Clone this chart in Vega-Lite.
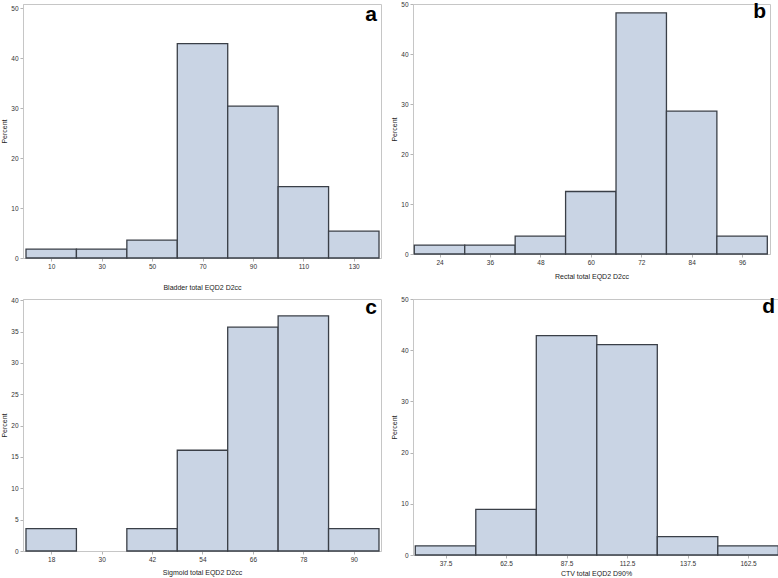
{
  "$schema": "https://vega.github.io/schema/vega-lite/v6.json",
  "background": "white",
  "padding": {"left": 0, "top": 0, "right": 0, "bottom": 0},
  "datasets": {
    "a": [
      {"lo": 0, "hi": 20, "pct": 1.79},
      {"lo": 20, "hi": 40, "pct": 1.79},
      {"lo": 40, "hi": 60, "pct": 3.57},
      {"lo": 60, "hi": 80, "pct": 42.86},
      {"lo": 80, "hi": 100, "pct": 30.36},
      {"lo": 100, "hi": 120, "pct": 14.29},
      {"lo": 120, "hi": 140, "pct": 5.36}
    ],
    "b": [
      {"lo": 18, "hi": 30, "pct": 1.79},
      {"lo": 30, "hi": 42, "pct": 1.79},
      {"lo": 42, "hi": 54, "pct": 3.57},
      {"lo": 54, "hi": 66, "pct": 12.5},
      {"lo": 66, "hi": 78, "pct": 48.21},
      {"lo": 78, "hi": 90, "pct": 28.57},
      {"lo": 90, "hi": 102, "pct": 3.57}
    ],
    "c": [
      {"lo": 12, "hi": 24, "pct": 3.57},
      {"lo": 36, "hi": 48, "pct": 3.57},
      {"lo": 48, "hi": 60, "pct": 16.07},
      {"lo": 60, "hi": 72, "pct": 35.71},
      {"lo": 72, "hi": 84, "pct": 37.5},
      {"lo": 84, "hi": 96, "pct": 3.57}
    ],
    "d": [
      {"lo": 25, "hi": 50, "pct": 1.79},
      {"lo": 50, "hi": 75, "pct": 8.93},
      {"lo": 75, "hi": 100, "pct": 42.86},
      {"lo": 100, "hi": 125, "pct": 41.07},
      {"lo": 125, "hi": 150, "pct": 3.57},
      {"lo": 150, "hi": 175, "pct": 1.79}
    ]
  },
  "columns": 2,
  "bounds": "flush",
  "align": "each",
  "spacing": {"row": 41, "column": 32},
  "concat": [
    {
      "width": 358,
      "height": 254,
      "data": {"name": "a"},
      "title": {"text": "a"},
      "mark": {"type": "bar"},
      "encoding": {
        "x": {"field": "lo", "type": "quantitative", "scale": {"domain": [-1.19, 140.79], "nice": false, "zero": false},
              "axis": {"values": [10, 30, 50, 70, 90, 110, 130], "title": "Bladder total EQD2  D2cc", "titlePadding": 14}},
        "x2": {"field": "hi"},
        "y": {"field": "pct", "type": "quantitative", "scale": {"domain": [0, 50.8], "nice": false},
              "axis": {"values": [0, 10, 20, 30, 40, 50], "title": "Percent"}},
        "y2": {"datum": 0}
      }
    },
    {
      "width": 357,
      "height": 250,
      "data": {"name": "b"},
      "title": {"text": "b"},
      "mark": {"type": "bar"},
      "encoding": {
        "x": {"field": "lo", "type": "quantitative", "scale": {"domain": [17.69, 102.64], "nice": false, "zero": false},
              "axis": {"values": [24, 36, 48, 60, 72, 84, 96], "title": "Rectal total EQD2  D2cc", "titlePadding": 7}},
        "x2": {"field": "hi"},
        "y": {"field": "pct", "type": "quantitative", "scale": {"domain": [0, 50], "nice": false},
              "axis": {"values": [0, 10, 20, 30, 40, 50], "title": "Percent"}},
        "y2": {"datum": 0}
      }
    },
    {
      "width": 358,
      "height": 252,
      "data": {"name": "c"},
      "title": {"text": "c"},
      "mark": {"type": "bar"},
      "encoding": {
        "x": {"field": "lo", "type": "quantitative", "scale": {"domain": [11.29, 96.48], "nice": false, "zero": false},
              "axis": {"values": [18, 30, 42, 54, 66, 78, 90], "title": "Sigmoid total EQD2  D2cc", "titlePadding": 6}},
        "x2": {"field": "hi"},
        "y": {"field": "pct", "type": "quantitative", "scale": {"domain": [0, 40.2], "nice": false},
              "axis": {"values": [0, 5, 10, 15, 20, 25, 30, 35, 40], "title": "Percent"}},
        "y2": {"datum": 0}
      }
    },
    {
      "width": 366,
      "height": 256,
      "data": {"name": "d"},
      "title": {"text": "d"},
      "mark": {"type": "bar"},
      "encoding": {
        "x": {"field": "lo", "type": "quantitative", "scale": {"domain": [24.05, 175.29], "nice": false, "zero": false},
              "axis": {"values": [37.5, 62.5, 87.5, 112.5, 137.5, 162.5], "format": ".1f", "title": "CTV total EQD2 D90%", "titlePadding": 3}},
        "x2": {"field": "hi"},
        "y": {"field": "pct", "type": "quantitative", "scale": {"domain": [0, 50], "nice": false},
              "axis": {"values": [0, 10, 20, 30, 40, 50], "title": "Percent"}},
        "y2": {"datum": 0}
      }
    }
  ],
  "config": {
    "view": {"stroke": "#c6c6c6", "strokeWidth": 1},
    "bar": {"fill": "#c9d4e4", "stroke": "#3a3f47", "strokeWidth": 1.3},
    "title": {"anchor": "end", "frame": "group", "orient": "top", "offset": -21, "baseline": "alphabetic", "dx": -4,
              "fontSize": 21, "fontWeight": "bold", "color": "#000000", "font": "Liberation Sans"},
    "axis": {
      "grid": false,
      "domainColor": "#c6c6c6",
      "tickColor": "#b5b5b5",
      "tickSize": 3,
      "labelFont": "Liberation Sans",
      "labelFontSize": 6.5,
      "labelColor": "#333333",
      "labelPadding": 2,
      "titleFont": "Liberation Sans",
      "titleFontSize": 7,
      "titleFontWeight": "normal",
      "titleColor": "#222222",
      "titlePadding": 3
    }
  }
}
